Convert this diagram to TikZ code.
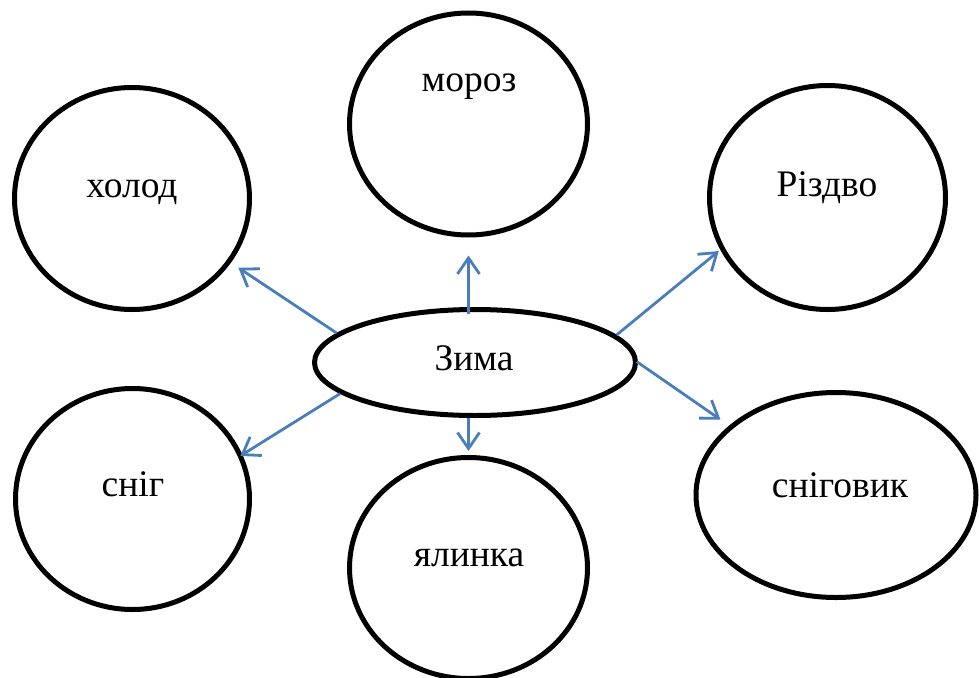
\documentclass[tikz,border=0pt]{standalone}
\usepackage{fontspec}
\setmainfont{Liberation Serif}
\usetikzlibrary{shapes.geometric,arrows.meta}
\definecolor{arrblue}{HTML}{4A7EBB}
\tikzset{
  ell/.style={ellipse, draw=black, line width=5pt, inner sep=0pt, fill=white},
  lbl/.style={anchor=base, inner sep=0pt, font=\fontsize{37.5}{42}\selectfont},
  arr/.style={draw=arrblue, line width=2.8pt, -{Straight Barb[length=16pt,width=22pt]}}
}
\begin{document}
\begin{tikzpicture}[x=1pt,y=-1pt]
\useasboundingbox (0,0) rectangle (979,677);
\clip (0,0) rectangle (979,677);
\fill[white] (0,0) rectangle (979,677);
% ellipses
\node[ell, minimum width=235pt, minimum height=222pt] (holod) at (132,198.5) {};
\node[ell, minimum width=238pt, minimum height=222pt] (moroz) at (468.5,124) {};
\node[ell, minimum width=236pt, minimum height=224pt] (rizdvo) at (827.5,197.5) {};
\node[ell, minimum width=321pt, minimum height=106pt] (zyma) at (475,362.5) {};
\node[ell, minimum width=234pt, minimum height=221pt] (snih) at (132.5,499) {};
\node[ell, minimum width=238pt, minimum height=221pt] (yalynka) at (468.5,568) {};
\node[ell, minimum width=280pt, minimum height=205pt] (snihovyk) at (836,495) {};
% labels
\node[lbl] (tzyma) at (474,370) {Зима};
\node[lbl] (tholod) at (132,197) {холод};
\node[lbl] (tmoroz) at (469,91) {мороз};
\node[lbl] (trizdvo) at (827,196) {Різдво};
\node[lbl] (tsnih) at (133,496) {сніг};
\node[lbl] (tyalynka) at (469,566) {ялинка};
\node[lbl] (tsnihovyk) at (840,497) {сніговик};
% connectors
\draw[arr, shorten >=9pt] (zyma.168) -- (holod.-33);
\draw[arr, shorten <=-6.5pt, shorten >=18pt] (zyma.north -| moroz.south) -- (moroz.south);
\draw[arr, shorten >=2pt] (zyma.11.6) -- (rizdvo.206.9);
\draw[arr, shorten >=-2.5pt] (zyma.193.8) -- (snih.22.8);
\draw[arr, shorten >=4pt] (zyma.south -| yalynka.north) -- (yalynka.north);
\draw[arr, shorten <=-1.5pt, shorten >=10.5pt] (zyma.east) -- (snihovyk.147.4);
\end{tikzpicture}
\end{document}
